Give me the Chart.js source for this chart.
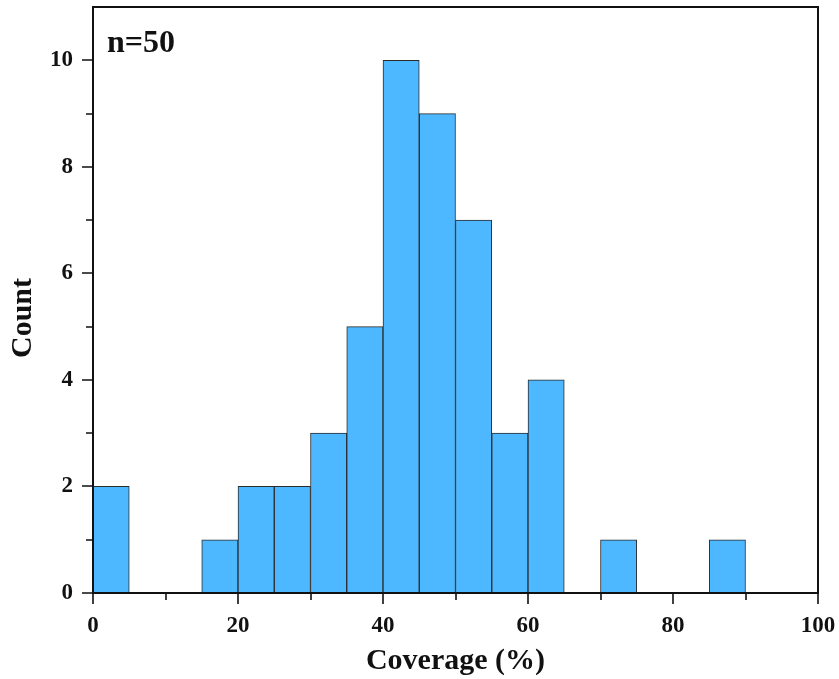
<!DOCTYPE html>
<html><head><meta charset="utf-8">
<script src="https://cdn.jsdelivr.net/npm/chart.js@4/dist/chart.umd.min.js"></script>
<style>html,body{margin:0;padding:0;background:#fff}</style>
</head><body>
<canvas id="c" width="839" height="679"></canvas>
<script>
const binStarts = [0,5,10,15,20,25,30,35,40,45,50,55,60,65,70,75,80,85,90,95];
const counts    = [2,0,0,1,2,2,3,5,10,9,7,3,4,0,1,0,0,1,0,0];
const binWidth = 5;
const xTickLabels = [0,20,40,60,80,100];
const xMinorTicks = [10,30,50,70,90];
const yTickLabels = [0,2,4,6,8,10];
const yMinorTicks = [1,3,5,7,9];
const sampleLabel = 'n=50';
const xTitle = 'Coverage (%)';
const yTitle = 'Count';

const FONT = '"Liberation Serif","Times New Roman",serif';
const barData = binStarts.map((s,i)=>({x: s + binWidth/2, y: counts[i]}));

const frame = {
  id:'frame',
  afterDatasetsDraw(chart){
    const {ctx, chartArea:a, scales} = chart;
    ctx.save();
    ctx.strokeStyle = '#111';
    ctx.lineWidth = 2;
    ctx.strokeRect(a.left, a.top, a.right-a.left, a.bottom-a.top);
    ctx.lineWidth = 1.6;
    ctx.beginPath();
    const xt = (v,len)=>{ const px = Math.round(scales.x.getPixelForValue(v)); ctx.moveTo(px, a.bottom); ctx.lineTo(px, a.bottom + len); };
    const yt = (v,len)=>{ const py = Math.round(scales.y.getPixelForValue(v)); ctx.moveTo(a.left, py); ctx.lineTo(a.left - len, py); };
    xTickLabels.forEach(v=>xt(v,11));
    xMinorTicks.forEach(v=>xt(v,7));
    yTickLabels.forEach(v=>yt(v,11));
    yMinorTicks.forEach(v=>yt(v,7));
    ctx.stroke();
    ctx.fillStyle = '#111';
    ctx.font = 'bold 32px ' + FONT;
    ctx.textBaseline = 'alphabetic';
    ctx.textAlign = 'left';
    ctx.fillText(sampleLabel, a.left + 14, a.top + 45);
    // y axis title
    ctx.font = 'bold 30px ' + FONT;
    ctx.translate(23, 318);
    ctx.rotate(-Math.PI/2);
    ctx.textAlign = 'center';
    ctx.textBaseline = 'middle';
    ctx.fillText(yTitle, 0, 0);
    ctx.restore();
  }
};

new Chart(document.getElementById('c'), {
  type: 'bar',
  data: { datasets: [{
    data: barData,
    backgroundColor: '#4DB8FF',
    borderColor: '#2b2b2b',
    borderWidth: 1,
    borderSkipped: false,
    barPercentage: 1,
    categoryPercentage: 1
  }]},
  options: {
    responsive: false,
    animation: false,
    devicePixelRatio: 1,
    layout: { padding: { top: 7, right: 21, left: 0, bottom: 0 } },
    plugins: { legend: {display:false}, tooltip: {enabled:false} },
    scales: {
      x: {
        type: 'linear', min: 0, max: 100, offset: false,
        afterBuildTicks(scale){ scale.ticks = xTickLabels.map(v=>({value:v})); },
        afterFit(scale){ scale.height = 86; scale.paddingLeft = 0; scale.paddingRight = 0; },
        ticks: { color:'#111', font:{family:FONT, size:23, weight:'bold'}, padding: 19, maxRotation:0 },
        grid: { display:false, drawOnChartArea:false, drawTicks:false, offset:false },
        border: { display:true, color:'#111', width:2 },
        title: { display:true, text:xTitle, color:'#111', font:{family:FONT, size:30, weight:'bold'}, padding:{top:0,bottom:0} }
      },
      y: {
        min: 0, max: 11,
        afterBuildTicks(scale){ scale.ticks = yTickLabels.map(v=>({value:v})); },
        afterFit(scale){ scale.width = 93; scale.paddingTop = 0; scale.paddingBottom = 0; },
        ticks: { color:'#111', font:{family:FONT, size:23, weight:'bold'}, padding: 20 },
        grid: { display:false, drawOnChartArea:false, drawTicks:false },
        border: { display:true, color:'#111', width:2 },
        title: { display:false }
      }
    }
  },
  plugins: [frame]
});
</script>
</body></html>
